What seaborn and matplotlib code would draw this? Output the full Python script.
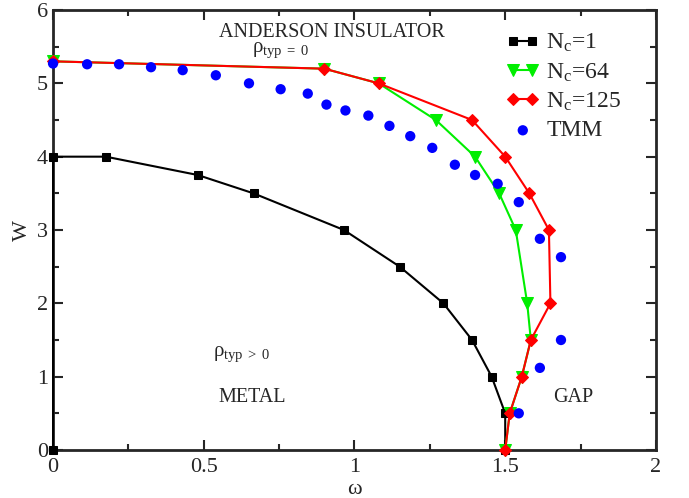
import matplotlib
matplotlib.use('Agg')
import matplotlib.pyplot as plt
import seaborn as sns
from matplotlib.ticker import MultipleLocator

# N_c = 1 (black squares)
nc1_omega = [0.0, 0.0, 0.175, 0.48, 0.665, 0.965, 1.15, 1.295, 1.39, 1.455, 1.50, 1.50]
nc1_w = [0.0, 4.0, 4.0, 3.75, 3.5, 3.0, 2.5, 2.0, 1.5, 1.0, 0.5, 0.0]
# N_c = 64 (green triangles)
nc64_omega = [0.0, 0.9, 1.08, 1.27, 1.40, 1.48, 1.535, 1.573, 1.585, 1.555, 1.515, 1.50]
nc64_w = [5.3, 5.2, 5.0, 4.5, 4.0, 3.5, 3.0, 2.0, 1.5, 1.0, 0.5, 0.0]
# N_c = 125 (red diamonds)
nc125_omega = [0.0, 0.9, 1.08, 1.39, 1.50, 1.58, 1.645, 1.65, 1.585, 1.555, 1.515, 1.50]
nc125_w = [5.3, 5.2, 5.0, 4.5, 4.0, 3.5, 3.0, 2.0, 1.5, 1.0, 0.5, 0.0]
# TMM (blue dots)
tmm_omega = [0.0, 0.113, 0.219, 0.325, 0.43, 0.54, 0.65, 0.755, 0.845, 0.907, 0.97,
             1.046, 1.116, 1.185, 1.258, 1.333, 1.40, 1.475, 1.545, 1.615, 1.685,
             1.685, 1.615, 1.545]
tmm_w = [5.27, 5.26, 5.26, 5.22, 5.18, 5.11, 5.0, 4.92, 4.86, 4.71, 4.63,
         4.56, 4.42, 4.28, 4.12, 3.89, 3.75, 3.63, 3.38, 2.88, 2.63,
         1.5, 1.12, 0.5]

x_ticks = [0, 0.5, 1, 1.5, 2]
x_ticklabels = ['0', '0.5', '1', '1.5', '2']

sns.set_style('ticks')
plt.rcParams['font.family'] = ['Liberation Serif', 'DejaVu Serif']
plt.rcParams['mathtext.fontset'] = 'custom'
plt.rcParams['mathtext.rm'] = 'Liberation Serif'
plt.rcParams['mathtext.it'] = 'Liberation Serif:italic'

fig = plt.figure(figsize=(6.89, 4.98), dpi=100)
ax = fig.add_axes([0.077, 0.0964, 0.875, 0.8835])

sns.lineplot(x=nc1_omega, y=nc1_w, sort=False, estimator=None, ax=ax, color='black',
             marker='s', markersize=6, markeredgecolor='black', linewidth=1.5,
             label=r'N$_{\rm c}$=1', clip_on=False, zorder=3)
sns.lineplot(x=nc64_omega, y=nc64_w, sort=False, estimator=None, ax=ax, color='#00ee00',
             marker='v', markersize=9, markeredgecolor='#00ee00', linewidth=1.5,
             label=r'N$_{\rm c}$=64', clip_on=False, zorder=4)
sns.lineplot(x=nc125_omega, y=nc125_w, sort=False, estimator=None, ax=ax, color='#ff0000',
             marker='D', markersize=6, markeredgecolor='#ff0000', linewidth=1.5,
             label=r'N$_{\rm c}$=125', clip_on=False, zorder=5)
sns.scatterplot(x=tmm_omega, y=tmm_w, ax=ax, color='#0000ff', s=55, edgecolor='none',
                label='TMM', clip_on=False, zorder=6)

ax.set_xlim(0, 2)
ax.set_ylim(0, 6)
ax.set_xticks(x_ticks)
ax.set_xticklabels(x_ticklabels)
ax.xaxis.set_minor_locator(MultipleLocator(0.25))
ax.yaxis.set_major_locator(MultipleLocator(1))
ax.yaxis.set_minor_locator(MultipleLocator(0.5))
ax.tick_params(which='both', direction='in', top=True, right=True, width=1.5, labelsize=16)
ax.tick_params(which='major', length=7)
ax.tick_params(which='minor', length=4)
ax.tick_params(axis='x', which='major', pad=6)
for s in ax.spines.values():
    s.set_linewidth(2)
ax.set_xlabel('ω', fontsize=16, labelpad=2)
ax.set_ylabel('W', fontsize=16, labelpad=4)

ax.text(0.925, 5.70, 'ANDERSON INSULATOR', fontsize=14.5, ha='center', va='center')
ax.text(0.66, 5.45, r'$\mathrm{\rho}_{\mathrm{typ\ =\ 0}}$', fontsize=15, ha='left', va='center')
ax.text(0.53, 1.3, r'$\mathrm{\rho}_{\mathrm{typ\ >\ 0}}$', fontsize=15, ha='left', va='center')
ax.text(0.66, 0.72, 'METAL', fontsize=14.5, ha='center', va='center')
ax.text(1.725, 0.72, 'GAP', fontsize=14.5, ha='center', va='center')

leg = ax.legend(loc='upper right', bbox_to_anchor=(0.97, 0.988), frameon=False, fontsize=17,
                numpoints=2, scatterpoints=1, handlelength=1.4, handletextpad=0.3,
                labelspacing=0.3, borderaxespad=0.3)

fig.savefig('out.png', dpi=100)
